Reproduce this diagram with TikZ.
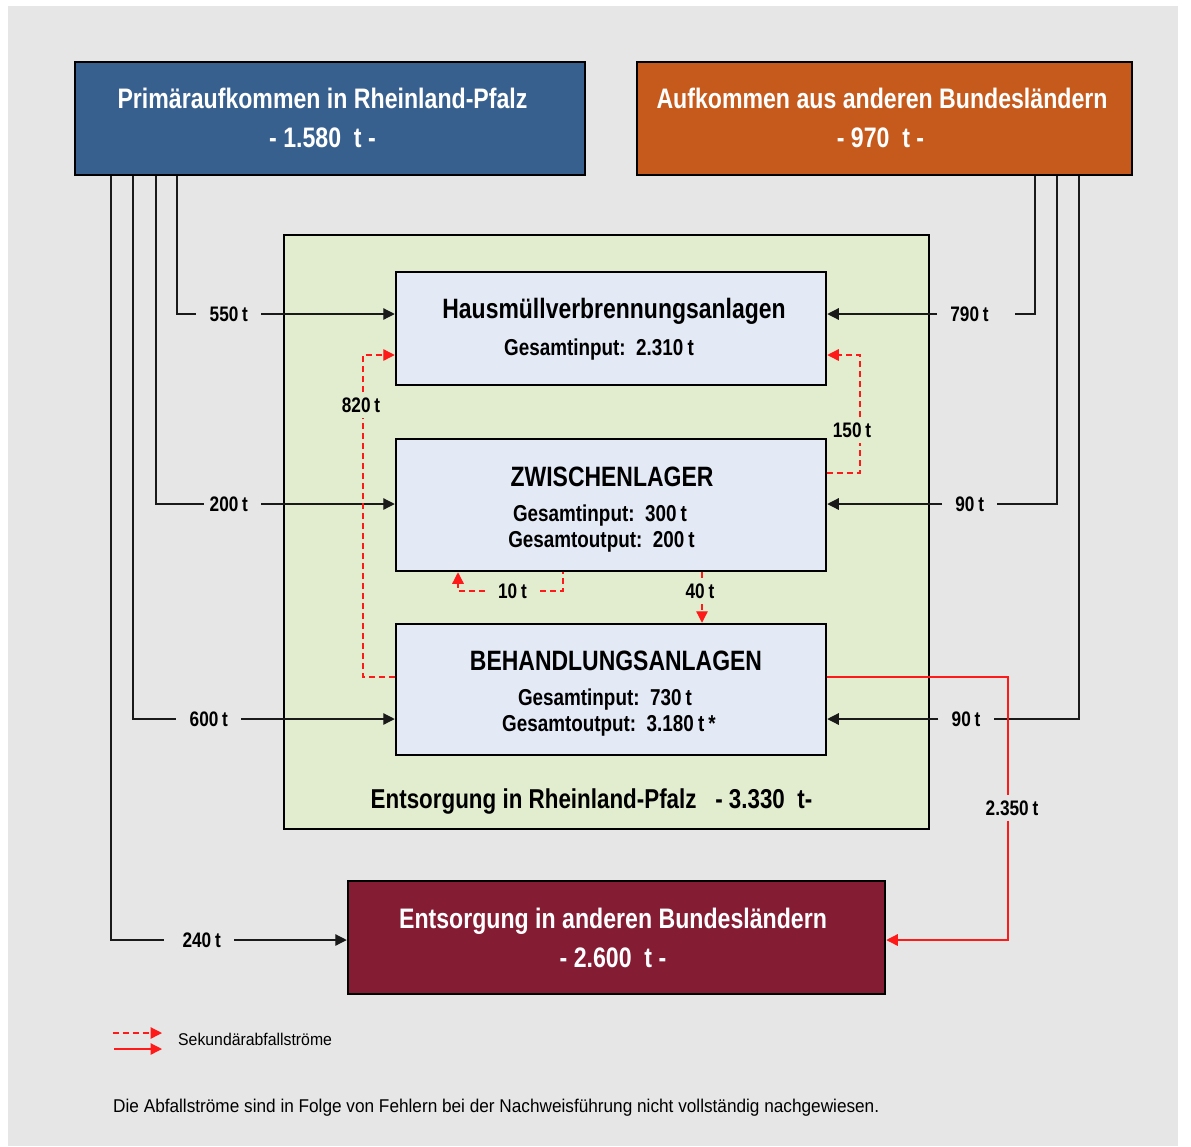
\documentclass[tikz,border=0pt]{standalone}
\usepackage{fontspec}
\setmainfont{Liberation Sans}[FakeStretch=0.82]
\newfontfamily\regfont{Liberation Sans}[FakeStretch=0.93]
\usetikzlibrary{arrows.meta,calc}
\definecolor{bggray}{HTML}{E6E6E6}
\definecolor{blueF}{HTML}{38608F}
\definecolor{orangeF}{HTML}{C55A1C}
\definecolor{wineF}{HTML}{841C33}
\definecolor{greenF}{HTML}{E2EDD0}
\definecolor{paleF}{HTML}{E3EAF6}
\definecolor{lineC}{HTML}{1A1A1A}
\definecolor{redC}{HTML}{FF1A1A}
\newcommand{\ftitle}{\bfseries\fontsize{28.2}{32}\selectfont}
\newcommand{\fhead}{\bfseries\fontsize{28}{32}\selectfont}
\newcommand{\fsub}{\bfseries\fontsize{23}{27}\selectfont}
\newcommand{\flab}{\bfseries\fontsize{21}{25}\selectfont}
\newcommand{\frlp}{\bfseries\fontsize{27.3}{31}\selectfont}
\newcommand{\ffoot}{\regfont\fontsize{18.5}{22}\selectfont}
\newcommand{\fleg}{\regfont\fontsize{17}{20}\selectfont}
\newcommand{\tsp}{\hspace{0.18em}}
\begin{document}
\begin{tikzpicture}[x=1pt,y=-1pt,
  box/.style={draw=black,line width=2.5pt,inner sep=0pt},
  txt/.style={anchor=base,inner sep=0pt},
  wtxt/.style={anchor=base,inner sep=0pt,text=white},
  lab/.style={font=\flab,inner xsep=13pt,inner ysep=5pt,text depth=0pt},
  conn/.style={draw=lineC,line width=1.2pt},
  arr/.style={-{Triangle[length=11.5pt,width=11.5pt]}},
  sec/.style={draw=redC,line width=1.3pt,dash pattern=on 6pt off 4pt},
  secs/.style={draw=redC,line width=1.3pt}]
\useasboundingbox (0,0) rectangle (1191,1146);
\fill[bggray] (8,6) rectangle (1178,1146);

% boxes
\node[box,fill=greenF,line width=2.2pt,minimum width=645pt,minimum height=594pt] (rlp) at (606.5,532) {};
\node[box,fill=blueF,minimum width=510pt,minimum height=113pt] (prim) at (330,118.5) {};
\node[box,fill=orangeF,minimum width=495pt,minimum height=113pt] (aufk) at (884.5,118.5) {};
\node[box,fill=paleF,minimum width=430pt,minimum height=113pt] (hmva) at (611,328.5) {};
\node[box,fill=paleF,minimum width=430pt,minimum height=132pt] (zwl) at (611,505) {};
\node[box,fill=paleF,minimum width=430pt,minimum height=131pt] (beh) at (611,689.5) {};
\node[box,fill=wineF,minimum width=537pt,minimum height=113pt] (ext) at (616.5,937.5) {};

% box texts
\node[wtxt,font=\ftitle] (primT) at (322.5,108) {Primäraufkommen in Rheinland-Pfalz};
\node[wtxt,font=\ftitle] (primV) at (322.5,147) {- 1.580\ \ t -};
\node[wtxt,font=\ftitle] (aufkT) at (882,108) {Aufkommen aus anderen Bundesländern};
\node[wtxt,font=\ftitle] (aufkV) at (880.5,147) {- 970\ \ t -};
\node[wtxt,font=\ftitle] (extT) at (613,928) {Entsorgung in anderen Bundesländern};
\node[wtxt,font=\ftitle] (extV) at (613,967) {- 2.600\ \ t -};
\node[txt,font=\fhead] (hmvaT) at (614,318) {Hausmüllverbrennungsanlagen};
\node[txt,font=\fsub] (hmvaI) at (599,355) {Gesamtinput:\ \ 2.310\tsp t};
\node[txt,font=\fhead] (zwlT) at (612,486) {ZWISCHENLAGER};
\node[txt,font=\fsub] (zwlI) at (600,521) {Gesamtinput:\ \ 300\tsp t};
\node[txt,font=\fsub] (zwlO) at (601.5,547.5) {Gesamtoutput:\ \ 200\tsp t};
\node[txt,font=\fhead] (behT) at (616,670) {BEHANDLUNGSANLAGEN};
\node[txt,font=\fsub] (behI) at (605,705) {Gesamtinput:\ \ 730\tsp t};
\node[txt,font=\fsub] (behO) at (609,731.5) {Gesamtoutput:\ \ 3.180\tsp t\tsp *};
\node[txt,font=\frlp] (rlpT) at (591.5,808) {Entsorgung in Rheinland-Pfalz\ \ \ - 3.330\ \ t-};

% helper coordinates
\coordinate (xL1) at (111,0);
\coordinate (xL2) at (133,0);
\coordinate (xL3) at (156,0);
\coordinate (xL4) at (177,0);
\coordinate (xR1) at (1035,0);
\coordinate (xR2) at (1057,0);
\coordinate (xR3) at (1079,0);
\coordinate (x820) at (363,0);
\coordinate (x150) at (860,0);
\coordinate (x10a) at (563,0);
\coordinate (x10b) at (458,0);
\coordinate (x40) at (702,0);
\coordinate (x2350) at (1008,0);
\coordinate (yHr) at (0,355);
\coordinate (yZr) at (0,473);
\coordinate (yBr) at (0,677);
\coordinate (yD) at (0,940);

% labels
\node[lab] (l550) at (228.8,314) {550\tsp t};
\node[lab] (l200) at (228.8,504) {200\tsp t};
\node[lab] (l600) at (208.8,719) {600\tsp t};
\node[lab] (l240) at (201.7,940) {240\tsp t};
\node[lab] (l790) at (969.5,314) {790\tsp t};
\node[lab] (l90a) at (969.7,504) {90\tsp t};
\node[lab] (l90b) at (966,719) {90\tsp t};
\node[lab] (l820) at (361,405) {820\tsp t};
\node[lab] (l150) at (852,430) {150\tsp t};
\node[lab] (l10) at (512.5,591) {10\tsp t};
\node[lab] (l40) at (700,591.5) {40\tsp t};
\node[lab] (l2350) at (1012,808) {2.350\tsp t};

% primary flows from Rheinland-Pfalz
\draw[conn] (prim.south -| xL4) |- (l550.west);
\draw[conn,arr] (l550.east) -- (hmva.west |- l550.east);
\draw[conn] (prim.south -| xL3) |- ([xshift=8pt]l200.west);
\draw[conn,arr] (l200.east) -- (zwl.west |- l200.east);
\draw[conn] (prim.south -| xL2) |- (l600.west);
\draw[conn,arr] (l600.east) -- (beh.west |- l600.east);
\draw[conn] (prim.south -| xL1) |- ([xshift=-5pt]l240.west);
\draw[conn,arr] (l240.east) -- (ext.west |- l240.east);

% primary flows from other states
\draw[conn] (aufk.south -| xR1) |- ([xshift=13pt]l790.east);
\draw[conn,arr] (l790.west) -- (hmva.east |- l790.west);
\draw[conn] (aufk.south -| xR2) |- (l90a.east);
\draw[conn,arr] (l90a.west) -- (zwl.east |- l90a.west);
\draw[conn] (aufk.south -| xR3) |- (l90b.east);
\draw[conn,arr] (l90b.west) -- (beh.east |- l90b.west);

% secondary flows
\draw[sec] (beh.west |- yBr) -| (l820.south -| x820);
\draw[sec,arr] (l820.north -| x820) |- (hmva.west |- yHr);
\draw[sec] (zwl.east |- yZr) -| (l150.south -| x150);
\draw[sec,arr] (l150.north -| x150) |- (hmva.east |- yHr);
\draw[sec] (l10.east) -| (zwl.south -| x10a);
\draw[sec,arr] (l10.west) -| (zwl.south -| x10b);
\draw[sec] (zwl.south -| x40) -- (l40.north -| x40);
\draw[sec,arr] (l40.south -| x40) -- (beh.north -| x40);
\draw[secs] (beh.east |- yBr) -| (l2350.north -| x2350);
\draw[secs,arr] (l2350.south -| x2350) |- (ext.east |- yD);

% legend
\coordinate (lgA1) at (113,1033);
\coordinate (lgA2) at (162,1033);
\coordinate (lgB1) at (114,1049);
\coordinate (lgB2) at (162,1049);
\draw[sec,arr] (lgA1) -- (lgA2);
\draw[secs,arr] (lgB1) -- (lgB2);
\node[anchor=base west,inner sep=0pt,font=\fleg] (leg) at (178,1045) {Sekundärabfallströme};
\node[anchor=base west,inner sep=0pt,font=\ffoot] (foot) at (113,1112) {Die Abfallströme\ sind in\ Folge von Fehlern bei der Nachweisführung nicht vollständig\ nachgewiesen.};
\end{tikzpicture}
\end{document}
